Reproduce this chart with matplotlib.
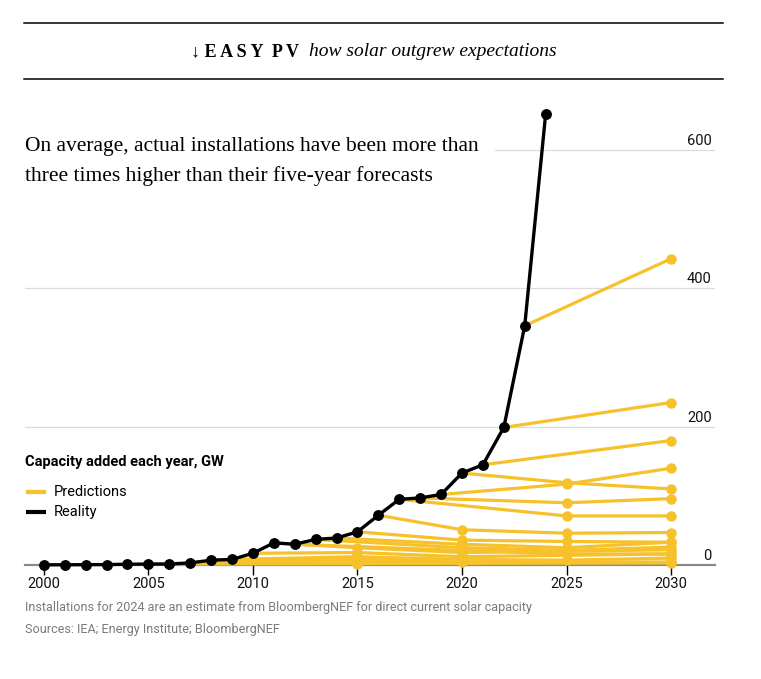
import matplotlib.pyplot as plt
from matplotlib import font_manager

# Actual annual solar PV installations, GW
years = list(range(2000, 2025))
reality = [0.3, 0.3, 0.5, 0.6, 1.1, 1.4, 1.5, 3, 7, 8, 17, 32, 30, 37, 39,
           48, 72, 95, 97, 102, 133, 145, 199, 346, 652]

# Forecasts: publication year -> (target years, predicted GW)
forecast_years = [2006, 2007, 2008, 2009, 2010, 2011, 2012, 2013, 2014,
                  2015, 2016, 2017, 2018, 2019, 2020, 2021, 2022, 2023]
forecast_targets = [
    [2015, 2030],
    [2015, 2030],
    [2015, 2020, 2030],
    [2015, 2020, 2025, 2030],
    [2015, 2020, 2030],
    [2015, 2020, 2030],
    [2020, 2025, 2030],
    [2020, 2025, 2030],
    [2020, 2025, 2030],
    [2020, 2025, 2030],
    [2020, 2025, 2030],
    [2025, 2030],
    [2025, 2030],
    [2025, 2030],
    [2025, 2030],
    [2030],
    [2030],
    [2030],
]
forecast_values = [
    [2, 3],
    [4, 4],
    [8, 5, 4],
    [12, 8, 7, 10],
    [18, 12, 16],
    [25, 18, 22],
    [21, 16, 16],
    [25, 21, 26],
    [30, 25, 33],
    [36, 34, 33],
    [51, 46, 47],
    [71, 71],
    [90, 96],
    [117, 140],
    [119, 110],
    [180],
    [235],
    [443],
]

grid_values = [200, 400, 600]
tick_years = list(range(2000, 2031, 5))

yellow = '#F6C12B'
black = '#000000'

names = {f.name for f in font_manager.fontManager.ttflist}
sans = 'Liberation Sans Narrow' if 'Liberation Sans Narrow' in names else 'Roboto'
serif = ['Liberation Serif', 'DejaVu Serif']

fig = plt.figure(figsize=(7.61, 6.79), dpi=100)
ax = fig.add_axes([25 / 761, 114 / 679, 690 / 761, 484 / 679])
ax.set_xlim(1999.1, 2032.1)
ax.set_ylim(0, 700)

for spine in ['top', 'left', 'right']:
    ax.spines[spine].set_visible(False)
ax.spines['bottom'].set_color('#8a8a8a')
ax.spines['bottom'].set_linewidth(1.6)
ax.spines['bottom'].set_zorder(1)

for v in grid_values:
    xmin = (495 - 25) / 690 if v == 600 else 0
    ax.axhline(v, xmin=xmin, color='#dcdcdc', lw=0.9, zorder=0)
    ax.text(2031.95, v + 3, str(v), ha='right', va='bottom', fontsize=10.5,
            family=sans, color='#111111')
ax.text(2031.95, 3, '0', ha='right', va='bottom', fontsize=10.5,
        family=sans, color='#111111')

# Prediction lines start from the reality value of their publication year
for fy, tx, tv in zip(forecast_years, forecast_targets, forecast_values):
    xs = [fy] + tx
    ys = [reality[years.index(fy)]] + tv
    ax.plot(xs, ys, color=yellow, lw=2.3, marker='o', ms=6.5,
            markevery=list(range(1, len(xs))), solid_capstyle='round',
            clip_on=False, zorder=2)

ax.plot(years, reality, color=black, lw=2.4, marker='o', ms=6.8,
        clip_on=False, zorder=3)

ax.set_yticks([])
ax.set_xticks(tick_years)
ax.set_xticklabels([str(y) for y in tick_years], family=sans, fontsize=10.5)
ax.tick_params(axis='x', direction='out', length=7, width=1, color=black,
               pad=1.5, labelcolor='#111111')

# Header rules and title
fig.add_artist(plt.Line2D([24 / 761, 723 / 761], [1 - 23 / 679, 1 - 23 / 679],
                          color=black, lw=1.1))
fig.add_artist(plt.Line2D([24 / 761, 723 / 761], [1 - 79 / 679, 1 - 79 / 679],
                          color=black, lw=1.1))
fig.text(299 / 761, 1 - 52 / 679, '↓ E A S Y  P V', ha='right', va='center',
         fontsize=13, fontweight='bold', family=serif)
fig.text(309 / 761, 1 - 52 / 679, 'how solar outgrew expectations',
         ha='left', va='center', fontsize=14, style='italic', family=serif)

fig.text(25 / 761, 1 - 147 / 679,
         'On average, actual installations have been more than',
         ha='left', va='center', fontsize=15.5, family=serif)
fig.text(25 / 761, 1 - 176 / 679,
         'three times higher than their five-year forecasts',
         ha='left', va='center', fontsize=15.5, family=serif)

# Legend
fig.text(25 / 761, 1 - 462 / 679, 'Capacity added each year, GW',
         ha='left', va='center', fontsize=10.5, fontweight='bold', family=sans)
fig.add_artist(plt.Line2D([28 / 761, 44 / 761], [1 - 492 / 679, 1 - 492 / 679],
                          color=yellow, lw=3))
fig.add_artist(plt.Line2D([28 / 761, 44 / 761], [1 - 512 / 679, 1 - 512 / 679],
                          color=black, lw=3))
fig.text(54 / 761, 1 - 492 / 679, 'Predictions', ha='left', va='center',
         fontsize=10.5, family=sans)
fig.text(54 / 761, 1 - 512 / 679, 'Reality', ha='left', va='center',
         fontsize=10.5, family=sans)

# Notes
fig.text(25 / 761, 1 - 607 / 679,
         'Installations for 2024 are an estimate from BloombergNEF for direct current solar capacity',
         ha='left', va='center', fontsize=9.1, family=sans, color='#7a7a7a')
fig.text(25 / 761, 1 - 629 / 679, 'Sources: IEA; Energy Institute; BloombergNEF',
         ha='left', va='center', fontsize=9.1, family=sans, color='#7a7a7a')

fig.savefig('out.png', dpi=100)
